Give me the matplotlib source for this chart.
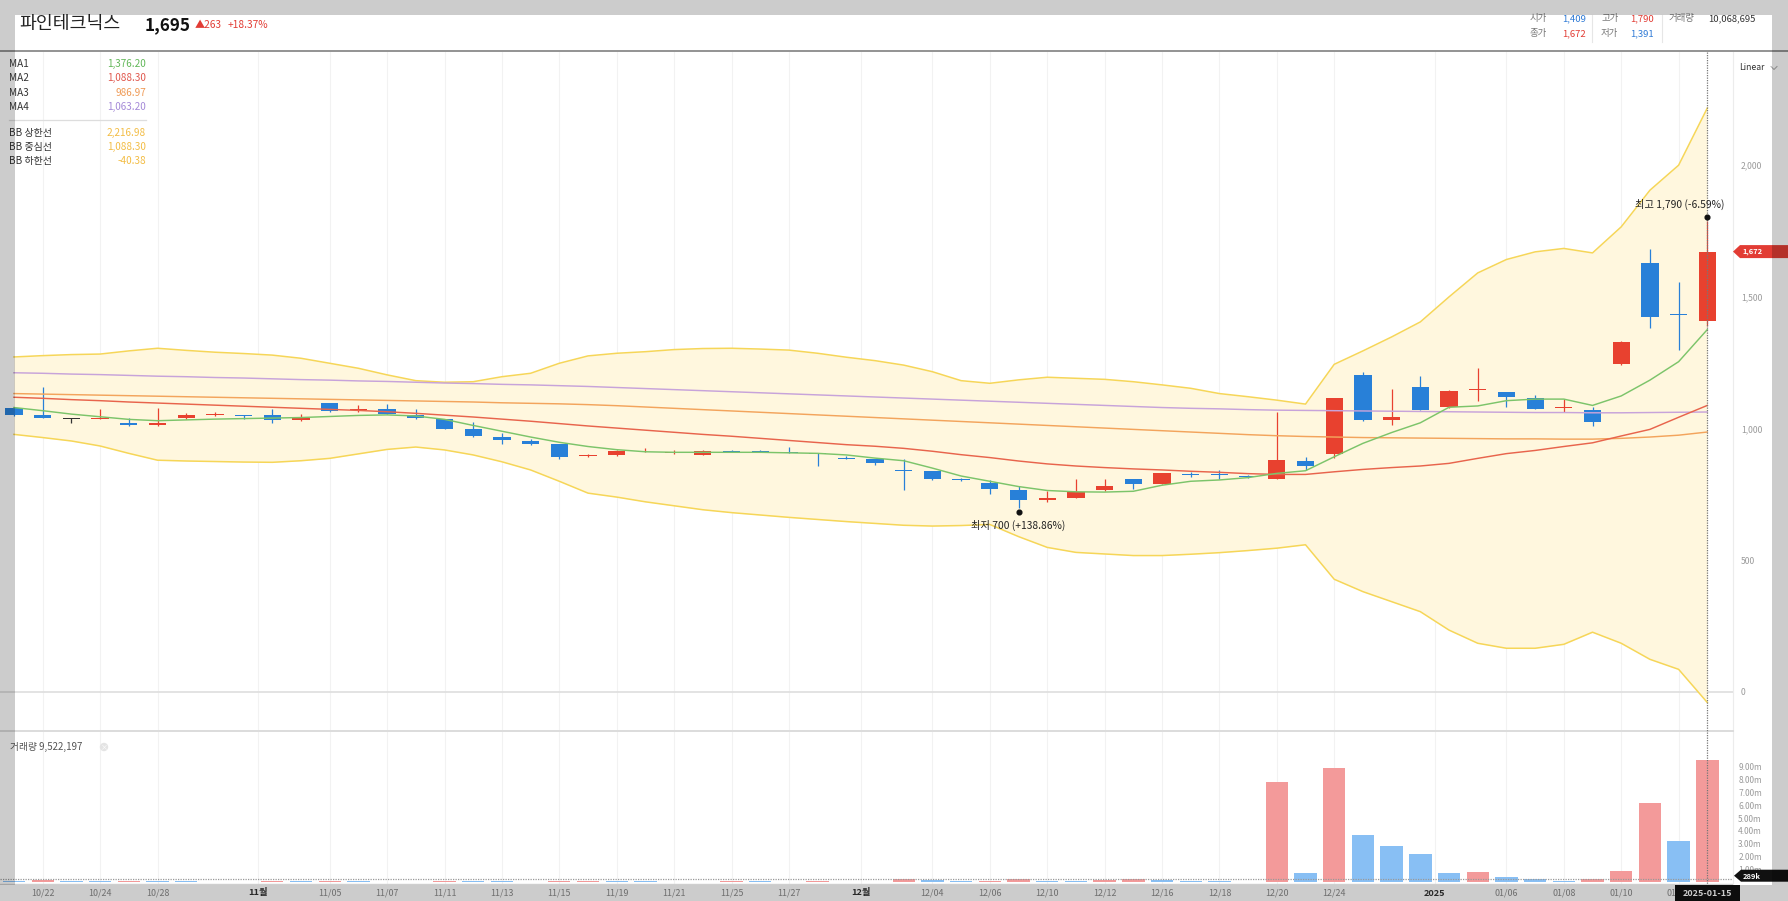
import numpy as np
import matplotlib
matplotlib.use('Agg')
import matplotlib.pyplot as plt
from matplotlib.patches import Rectangle, Polygon, Circle

plt.rcParams['font.family'] = ['Noto Sans CJK KR', 'DejaVu Sans']

# ---------------- data ----------------
dates = ['2024-10-21', '2024-10-22', '2024-10-23', '2024-10-24', '2024-10-25', '2024-10-28', '2024-10-29',
         '2024-10-30', '2024-10-31', '2024-11-01', '2024-11-04', '2024-11-05', '2024-11-06', '2024-11-07',
         '2024-11-08', '2024-11-11', '2024-11-12', '2024-11-13', '2024-11-14', '2024-11-15', '2024-11-18',
         '2024-11-19', '2024-11-20', '2024-11-21', '2024-11-22', '2024-11-25', '2024-11-26', '2024-11-27',
         '2024-11-28', '2024-11-29', '2024-12-02', '2024-12-03', '2024-12-04', '2024-12-05', '2024-12-06',
         '2024-12-09', '2024-12-10', '2024-12-11', '2024-12-12', '2024-12-13', '2024-12-16', '2024-12-17',
         '2024-12-18', '2024-12-19', '2024-12-20', '2024-12-23', '2024-12-24', '2024-12-26', '2024-12-27',
         '2024-12-30', '2025-01-02', '2025-01-03', '2025-01-06', '2025-01-07', '2025-01-08', '2025-01-09',
         '2025-01-10', '2025-01-13', '2025-01-14', '2025-01-15']

opens = [1077, 1050, 1038, 1037, 1022, 1012, 1040, 1051, 1051, 1050,
         1032, 1097, 1071, 1074, 1051, 1037, 999, 970, 953, 941,
         895, 898, 917, 909, 899, 915, 915, 911, 908, 888,
         884, 842, 838, 808, 795, 768, 728, 738, 765, 807,
         790, 827, 827, 818, 809, 878, 902, 1203, 1031, 1159,
         1081, 1147, 1138, 1117, 1077, 1071, 1244, 1629, 1436, 1409]
highs = [1083, 1157, 1039, 1073, 1039, 1077, 1058, 1063, 1052, 1073,
         1055, 1098, 1090, 1092, 1073, 1038, 1024, 983, 960, 942,
         902, 918, 925, 917, 918, 920, 920, 931, 909, 897,
         885, 884, 839, 811, 805, 782, 762, 809, 809, 809,
         831, 836, 842, 822, 1064, 892, 1117, 1216, 1150, 1199,
         1146, 1229, 1139, 1127, 1111, 1083, 1332, 1681, 1557, 1790]
lows = [1048, 1040, 1021, 1036, 1011, 1011, 1036, 1048, 1035, 1022,
        1028, 1064, 1064, 1055, 1036, 999, 967, 940, 938, 884,
        893, 897, 913, 904, 898, 910, 912, 908, 858, 885,
        860, 768, 805, 800, 751, 700, 722, 736, 763, 771,
        788, 815, 810, 812, 808, 842, 889, 1029, 1014, 1070,
        1080, 1105, 1081, 1073, 1064, 1008, 1243, 1382, 1297, 1391]
closes = [1051, 1041, 1038, 1040, 1012, 1022, 1050, 1055, 1048, 1032,
          1041, 1065, 1074, 1056, 1039, 1000, 971, 955, 943, 893,
          898, 916, 920, 912, 916, 913, 913, 908, 905, 886,
          870, 840, 810, 806, 771, 729, 738, 761, 781, 790,
          830, 825, 825, 816, 881, 859, 1117, 1031, 1043, 1071,
          1144, 1150, 1119, 1075, 1081, 1024, 1330, 1422, 1433, 1672]

volumes = [100000, 150000, 100000, 80000, 120000, 100000, 80000, 70000, 60000, 120000,
           80000, 120000, 90000, 70000, 60000, 120000, 100000, 80000, 70000, 120000,
           140000, 100000, 80000, 70000, 60000, 100000, 80000, 70000, 100000, 70000,
           60000, 280000, 150000, 100000, 120000, 250000, 120000, 100000, 150000, 250000,
           180000, 120000, 80000, 60000, 7780000, 760000, 8870000, 3690000, 2830000, 2180000,
           710000, 780000, 400000, 290000, 80000, 240000, 860000, 6200000, 3220000, 9522197]
vol_up = [0, 1, 0, 0, 1, 0, 0, 0, 0, 1, 0, 1, 0, 0, 0, 1, 0, 0, 0, 1,
          1, 0, 0, 0, 0, 1, 0, 0, 1, 0, 0, 1, 0, 0, 1, 1, 0, 0, 1, 1,
          0, 0, 0, 0, 1, 0, 1, 0, 0, 0, 0, 1, 0, 0, 0, 1, 1, 1, 0, 1]

ma1 = [1080, 1068, 1055, 1045, 1035, 1030, 1033, 1036, 1038, 1040,
       1042, 1046, 1050, 1052, 1048, 1035, 1012, 990, 968, 948,
       932, 920, 912, 910, 910, 910, 910, 908, 906, 900,
       888, 878, 850, 820, 800, 780, 765, 760, 759, 762,
       785, 800, 805, 814, 830, 840, 893, 944, 985, 1022,
       1081, 1086, 1106, 1112, 1112, 1088, 1124, 1184, 1254, 1376]
ma2 = [1119, 1115, 1110, 1106, 1101, 1097, 1093, 1089, 1085, 1081,
       1077, 1073, 1069, 1064, 1058, 1051, 1044, 1036, 1028, 1019,
       1010, 1002, 994, 986, 978, 971, 963, 955, 947, 939,
       933, 925, 914, 901, 890, 877, 866, 858, 852, 847,
       843, 838, 834, 829, 826, 826, 836, 845, 852, 858,
       868, 887, 905, 917, 932, 946, 972, 997, 1043, 1088]
ma3 = [1133, 1131, 1129, 1127, 1125, 1123, 1121, 1119, 1117, 1115,
       1113, 1111, 1109, 1107, 1105, 1103, 1101, 1098, 1096, 1094,
       1091, 1087, 1082, 1077, 1072, 1067, 1062, 1057, 1052, 1047,
       1042, 1037, 1032, 1027, 1022, 1017, 1012, 1007, 1002, 997,
       992, 987, 982, 977, 973, 970, 968, 966, 965, 964,
       963, 962, 961, 961, 960, 960, 963, 968, 975, 987]
ma4 = [1212, 1210, 1207, 1205, 1202, 1199, 1197, 1194, 1192, 1189,
       1186, 1184, 1181, 1179, 1176, 1173, 1171, 1168, 1166, 1163,
       1160, 1156, 1152, 1148, 1144, 1140, 1136, 1132, 1128, 1124,
       1120, 1116, 1112, 1108, 1104, 1100, 1096, 1092, 1088, 1084,
       1080, 1077, 1075, 1072, 1070, 1069, 1068, 1067, 1066, 1065,
       1064, 1063, 1062, 1061, 1061, 1060, 1060, 1061, 1062, 1063]
bb_upper = [1272, 1277, 1281, 1283, 1295, 1305, 1297, 1290, 1285, 1279,
            1267, 1248, 1229, 1204, 1182, 1176, 1178, 1197, 1210, 1248,
            1276, 1286, 1292, 1300, 1304, 1305, 1302, 1298, 1286, 1271,
            1258, 1241, 1216, 1182, 1172, 1185, 1195, 1191, 1187, 1178,
            1166, 1153, 1133, 1121, 1108, 1093, 1244, 1295, 1348, 1405,
            1500, 1591, 1642, 1671, 1684, 1667, 1766, 1905, 2000, 2217]
bb_lower = [978, 966, 953, 934, 906, 880, 877, 875, 873, 872,
            878, 887, 904, 921, 930, 919, 900, 874, 843, 800,
            755, 740, 722, 707, 692, 681, 672, 663, 655, 647,
            640, 633, 630, 632, 636, 590, 549, 530, 524, 518,
            518, 523, 529, 537, 546, 559, 428, 381, 343, 305,
            235, 185, 166, 166, 181, 227, 185, 124, 86, -40]

tick_labels = {'2024-10-22': '10/22', '2024-10-24': '10/24', '2024-10-28': '10/28',
               '2024-11-05': '11/05', '2024-11-07': '11/07', '2024-11-11': '11/11',
               '2024-11-13': '11/13', '2024-11-15': '11/15', '2024-11-19': '11/19',
               '2024-11-21': '11/21', '2024-11-25': '11/25', '2024-11-27': '11/27',
               '2024-12-04': '12/04', '2024-12-06': '12/06', '2024-12-10': '12/10',
               '2024-12-12': '12/12', '2024-12-16': '12/16', '2024-12-18': '12/18',
               '2024-12-20': '12/20', '2024-12-24': '12/24', '2025-01-06': '01/06',
               '2025-01-08': '01/08', '2025-01-10': '01/10', '2025-01-14': '01/14'}
month_labels = {'2024-11-01': '11월', '2024-12-02': '12월', '2025-01-02': '2025'}
price_ticks = [0, 500, 1000, 1500, 2000]
vol_ticks = [1e6, 2e6, 3e6, 4e6, 5e6, 6e6, 7e6, 8e6, 9e6]
crosshair_vol = 289000

title = '파인테크닉스'
cur_price = '1,695'
change = '▲263'
change_pct = '+18.37%'
hdr_items = [('시가', '1,409', 'b'), ('고가', '1,790', 'r'), ('거래량', '10,068,695', 'k'),
             ('종가', '1,672', 'r'), ('저가', '1,391', 'b')]
legend_ma = [('MA1', '1,376.20'), ('MA2', '1,088.30'), ('MA3', '986.97'), ('MA4', '1,063.20')]
legend_bb = [('BB 상한선', '2,216.98'), ('BB 중심선', '1,088.30'), ('BB 하한선', '-40.38')]
vol_label = '거래량 9,522,197'

# ---------------- styling ----------------
RED = '#e8412f'
BLUE = '#2880d8'
VRED = '#f39a9a'
VBLUE = '#88bff4'
C_MA = ['#7cc46a', '#e8644c', '#f3a45c', '#c7a3da']
C_MA_TXT = ['#63b85a', '#e0584e', '#ef9a55', '#a58ad8']
C_BB = '#f6d658'
C_BB_FILL = '#fff7de'
C_BB_TXT = '#f3bd45'

W, H = 1788, 901
fig = plt.figure(figsize=(W / 100, H / 100), dpi=100)
fig.patch.set_facecolor('white')


def frac_rect(x0, y0, x1, y1):
    return [x0 / W, 1 - y1 / H, (x1 - x0) / W, (y1 - y0) / H]


ax = fig.add_axes(frac_rect(0, 52, 1733, 731))
vax = fig.add_axes(frac_rect(0, 731, 1733, 885))
ov = fig.add_axes([0, 0, 1, 1])
ov.set_xlim(0, W)
ov.set_ylim(H, 0)
ov.axis('off')
ov.set_zorder(10)
ov.patch.set_alpha(0)

n = len(dates)
idx = np.arange(n)
o = np.array(opens, float)
h = np.array(highs, float)
l = np.array(lows, float)
c = np.array(closes, float)

XL = (-0.4878, 59.895)
ax.set_xlim(*XL)
ax.set_ylim(-148.1, 2429.8)
vax.set_xlim(*XL)
vax.set_ylim(-0.2e6, 11.77e6)

# grid positions
tick_pos = [dates.index(d) for d in tick_labels]
month_pos = [dates.index(d) - 0.5 for d in month_labels]
for p in tick_pos + month_pos:
    ax.axvline(p, color='#f2f2f2', lw=0.8, zorder=0)
    vax.axvline(p, color='#f2f2f2', lw=0.8, zorder=0)

ax.axhline(0, color='#e0e0e0', lw=1.3, zorder=0.4)

# Bollinger band
ax.fill_between(idx, bb_lower, bb_upper, color=C_BB_FILL, lw=0, zorder=0.5)
ax.plot(idx, bb_upper, color=C_BB, lw=1.1, zorder=3)
ax.plot(idx, bb_lower, color=C_BB, lw=1.1, zorder=3)

# candles
cols = np.where(c > o, RED, np.where(c < o, BLUE, '#333333'))
ax.vlines(idx, l, h, colors=cols, lw=0.9, zorder=2)
body = np.abs(c - o)
body = np.maximum(body, 3.5)
ax.bar(idx, body, bottom=np.minimum(o, c), width=0.6, color=cols, lw=0, zorder=2.1)

# moving averages
for arr, col in zip([ma4, ma3, ma2, ma1], [C_MA[3], C_MA[2], C_MA[1], C_MA[0]]):
    ax.plot(idx, arr, color=col, lw=1.05, zorder=3.2)

for a in (ax, vax):
    for s in ['top', 'left', 'bottom']:
        a.spines[s].set_visible(False)
    a.spines['right'].set_color('#ececec')
    a.set_xticks([])
    a.yaxis.tick_right()
    a.patch.set_alpha(0)

ax.set_yticks(price_ticks)
ax.set_yticklabels([f'{v:,}' for v in price_ticks])
ax.tick_params(axis='y', length=0, pad=5.8, labelsize=6.2, labelcolor='#9a9a9a')

# volume
vcols = [VRED if u else VBLUE for u in vol_up]
vax.bar(idx, volumes, width=0.78, color=vcols, lw=0, zorder=2)
vax.spines['top'].set_visible(True)
vax.spines['top'].set_color('#dcdcdc')
vax.spines['top'].set_linewidth(1.4)
vax.set_yticks(vol_ticks)
vax.set_yticklabels([f'{v / 1e6:.2f}m' for v in vol_ticks])
vax.tick_params(axis='y', length=0, pad=3.8, labelsize=6.0, labelcolor='#9a9a9a')
vax.axhline(crosshair_vol, color='#999999', lw=0.9, ls=(0, (1, 1)), zorder=3)
vax.axhline(-0.12e6, color='#cfcfcf', lw=1.0, zorder=3)


def px(a, x, y):
    d = a.transData.transform((x, y))
    return d[0], H - d[1]


# x labels
for d, lab in tick_labels.items():
    xp, _ = px(ax, dates.index(d), 0)
    ov.text(xp, 893, lab, ha='center', va='center', fontsize=6.4, color='#8a8a8a', zorder=5)
for d, lab in month_labels.items():
    xp, _ = px(ax, dates.index(d) - 0.5, 0)
    ov.text(xp, 893, lab, ha='center', va='center', fontsize=6.6, color='#333333',
            fontweight='bold', zorder=5)

# crosshair
xl, _ = px(ax, n - 1, 0)
ov.plot([xl, xl], [52, 885], color='#777777', lw=0.9, ls=(0, (1, 1)), zorder=4)

# high / low annotations
ih = int(np.argmax(h))
il = int(np.argmin(l))
xh, yh = px(ax, ih, h[ih])
xlo, ylo = px(ax, il, l[il])
ov.plot([xh], [yh - 4], 'o', color='#111111', ms=3.4, zorder=6)
ov.plot([xlo], [ylo + 4], 'o', color='#111111', ms=3.4, zorder=6)
pct_h = (c[-1] / h[ih] - 1) * 100
pct_l = (c[-1] / l[il] - 1) * 100
ov.text(xh + 17, yh - 16.5, f'최고 {int(h[ih]):,} ({pct_h:+.2f}%)', ha='right', va='center',
        fontsize=7.4, color='#222222', zorder=6)
ov.text(xlo, ylo + 17.5, f'최저 {int(l[il]):,} ({pct_l:+.2f}%)', ha='center', va='center',
        fontsize=7.4, color='#222222', zorder=6)

# close price tag
_, yc = px(ax, 0, c[-1])
ov.add_patch(Polygon([(1733, yc), (1740, yc - 6.5), (1788, yc - 6.5), (1788, yc + 6.5), (1740, yc + 6.5)],
                     closed=True, color='#e23c34', lw=0, zorder=7))
ov.text(1742, yc + 0.3, f'{int(c[-1]):,}', ha='left', va='center', fontsize=5.4, color='white',
        fontweight='bold', zorder=8)

# volume crosshair tag
_, yv = px(vax, 0, crosshair_vol)
yv -= 3
ov.add_patch(Polygon([(1734, yv), (1741, yv - 6), (1788, yv - 6), (1788, yv + 6), (1741, yv + 6)],
                     closed=True, color='#111111', lw=0, zorder=7))
ov.text(1743, yv + 0.3, f'{crosshair_vol // 1000}k', ha='left', va='center', fontsize=5.4,
        color='white', fontweight='bold', zorder=8)

# date box
ov.add_patch(Rectangle((xl - 32.5, 885), 65, 16, color='#111111', lw=0, zorder=7))
ov.text(xl, 893, dates[-1], ha='center', va='center', fontsize=6.5, color='white',
        fontweight='bold', zorder=8)

# header
ov.plot([0, W], [51, 51], color='#8a8a8a', lw=1.3, zorder=4)
ov.text(19, 24.5, title, ha='left', va='center', fontsize=13.2, color='#222222', zorder=5)
ov.text(145, 25, cur_price, ha='left', va='center', fontsize=12.3, color='#111111',
        fontweight='bold', zorder=5)
ov.text(195, 24.5, change, ha='left', va='center', fontsize=7.3, color='#e23c34', zorder=5)
ov.text(228, 24.5, change_pct, ha='left', va='center', fontsize=7.3, color='#e23c34', zorder=5)

hdr_colors = {'b': '#2e7ad6', 'r': '#e23c34', 'k': '#333333'}
hdr_pos = [(1530, 1562, 19), (1601, 1630, 19), (1669, 1708, 19), (1530, 1562, 33.5), (1601, 1630, 33.5)]
for (lab, val, cc), (xa, xb, yy) in zip(hdr_items, hdr_pos):
    ov.text(xa, yy, lab, ha='left', va='center', fontsize=6.8, color='#777777', zorder=5)
    ov.text(xb, yy, val, ha='left', va='center', fontsize=6.8, color=hdr_colors[cc], zorder=5)
for xs in (1592, 1662):
    ov.plot([xs, xs], [15, 42], color='#e6e6e6', lw=0.8, zorder=4)

ov.text(1739, 68, 'Linear', ha='left', va='center', fontsize=6.3, color='#333333', zorder=5)
ov.plot([1771, 1774, 1777], [66.5, 69.5, 66.5], color='#aaaaaa', lw=0.7, zorder=5)

# legend
rows_ma = [64, 78, 92.5, 106.5]
for (lab, val), yy, col in zip(legend_ma, rows_ma, C_MA_TXT):
    ov.text(9, yy, lab, ha='left', va='center', fontsize=7.2, color='#333333', zorder=5)
    ov.text(146, yy, val, ha='right', va='center', fontsize=7.2, color=col, zorder=5)
ov.plot([9, 146], [120, 120], color='#dddddd', lw=0.9, zorder=5)
rows_bb = [133, 147, 161]
for (lab, val), yy in zip(legend_bb, rows_bb):
    ov.text(9, yy, lab, ha='left', va='center', fontsize=7.2, color='#333333', zorder=5)
    ov.text(146, yy, val, ha='right', va='center', fontsize=7.2, color=C_BB_TXT, zorder=5)

# volume label
ov.text(10, 747, vol_label, ha='left', va='center', fontsize=7.0, color='#555555', zorder=5)
ov.add_patch(Circle((104, 747), 4.2, color='#e4e4e4', lw=0, zorder=5))
ov.text(104, 747, '×', ha='center', va='center', fontsize=5, color='#ffffff', zorder=6)

# screenshot frame (translucent grey)
for (x0, y0, w, hh) in [(0, 0, W, 15), (0, 885, W, 16), (0, 15, 15, 870), (1772, 15, 16, 870)]:
    ov.add_patch(Rectangle((x0, y0), w, hh, color='black', alpha=0.2, lw=0, zorder=20))

fig.savefig('out.png', dpi=100)
